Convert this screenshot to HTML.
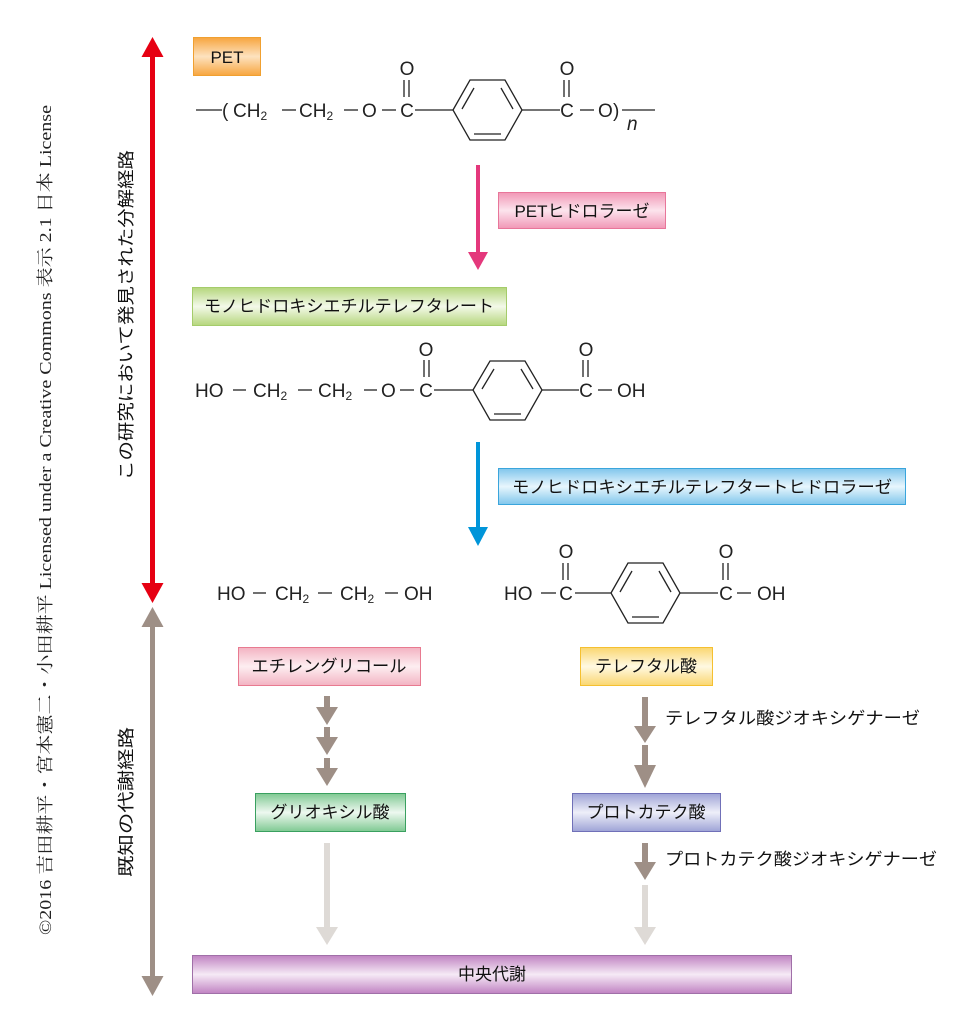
<!DOCTYPE html>
<html><head><meta charset="utf-8"><style>
html,body{margin:0;padding:0;background:#fff;}
svg{display:block;}
.c{font-family:"Liberation Sans",sans-serif;font-size:19px;fill:#222;}
.j{font-family:"Liberation Sans","Noto Sans CJK JP",sans-serif;font-size:17px;fill:#111;}
.b{stroke:#222;stroke-width:1.3;fill:none;}
</style></head><body>
<svg width="975" height="1029" viewBox="0 0 975 1029" xmlns="http://www.w3.org/2000/svg">
<defs>
<linearGradient id="gO" x1="0" y1="0" x2="0" y2="1"><stop offset="0" stop-color="#f7a53e"/><stop offset=".5" stop-color="#fde2bf"/><stop offset="1" stop-color="#f7a53e"/></linearGradient>
<linearGradient id="gP" x1="0" y1="0" x2="0" y2="1"><stop offset="0" stop-color="#f197b6"/><stop offset=".5" stop-color="#fce4ed"/><stop offset="1" stop-color="#f197b6"/></linearGradient>
<linearGradient id="gG" x1="0" y1="0" x2="0" y2="1"><stop offset="0" stop-color="#b5d67c"/><stop offset=".5" stop-color="#f3f9e9"/><stop offset="1" stop-color="#b5d67c"/></linearGradient>
<linearGradient id="gB" x1="0" y1="0" x2="0" y2="1"><stop offset="0" stop-color="#80c6ec"/><stop offset=".5" stop-color="#e8f6fd"/><stop offset="1" stop-color="#80c6ec"/></linearGradient>
<linearGradient id="gE" x1="0" y1="0" x2="0" y2="1"><stop offset="0" stop-color="#f3b3c2"/><stop offset=".5" stop-color="#fdeef1"/><stop offset="1" stop-color="#f3b3c2"/></linearGradient>
<linearGradient id="gY" x1="0" y1="0" x2="0" y2="1"><stop offset="0" stop-color="#fad670"/><stop offset=".5" stop-color="#fff9e2"/><stop offset="1" stop-color="#fad670"/></linearGradient>
<linearGradient id="gK" x1="0" y1="0" x2="0" y2="1"><stop offset="0" stop-color="#7fc992"/><stop offset=".5" stop-color="#eef8f0"/><stop offset="1" stop-color="#7fc992"/></linearGradient>
<linearGradient id="gV" x1="0" y1="0" x2="0" y2="1"><stop offset="0" stop-color="#9ea3d6"/><stop offset=".5" stop-color="#eeeff9"/><stop offset="1" stop-color="#9ea3d6"/></linearGradient>
<linearGradient id="gM" x1="0" y1="0" x2="0" y2="1"><stop offset="0" stop-color="#c083c2"/><stop offset=".5" stop-color="#f6eaf6"/><stop offset="1" stop-color="#c083c2"/></linearGradient>
</defs>

<text transform="translate(51,935) rotate(-90)" font-family="'Liberation Serif','Noto Serif CJK SC',serif" font-size="17" fill="#222" textLength="830" lengthAdjust="spacingAndGlyphs">©2016 吉田耕平・宮本憲二・小田耕平 Licensed under a Creative Commons 表示 2.1 日本 License</text>

<text class="j" transform="translate(132,480) rotate(-90)" font-size="18" textLength="330" lengthAdjust="spacingAndGlyphs">この研究において発見された分解経路</text>
<text class="j" transform="translate(132,877) rotate(-90)" font-size="18" textLength="150" lengthAdjust="spacingAndGlyphs">既知の代謝経路</text>

<rect x="150" y="54" width="5" height="532" fill="#e60012"/>
<polygon points="152.5,37 141.5,57 163.5,57" fill="#e60012"/>
<polygon points="152.5,603 141.5,583 163.5,583" fill="#e60012"/>
<rect x="150" y="624" width="5" height="354" fill="#9e8f86"/>
<polygon points="152.5,607 141.5,627 163.5,627" fill="#9e8f86"/>
<polygon points="152.5,996 141.5,976 163.5,976" fill="#9e8f86"/>

<rect x="193.5" y="37.5" width="67" height="38" fill="url(#gO)" stroke="#f0a030"/>
<text class="j" x="227" y="63" text-anchor="middle" font-size="19">PET</text>
<g class="b">
<line x1="196" y1="110" x2="222" y2="110"/>
<line x1="282" y1="110" x2="296" y2="110"/>
<line x1="344" y1="110" x2="358" y2="110"/>
<line x1="382" y1="110" x2="396" y2="110"/>
<line x1="415" y1="110" x2="453" y2="110"/>
<line x1="404" y1="80" x2="404" y2="97"/><line x1="409" y1="80" x2="409" y2="97"/>
<line x1="522" y1="110" x2="560" y2="110"/>
<line x1="580" y1="110" x2="594" y2="110"/>
<line x1="564" y1="80" x2="564" y2="97"/><line x1="569" y1="80" x2="569" y2="97"/>
<line x1="622" y1="110" x2="655" y2="110"/>
<polygon points="453,110 470,80 505,80 522,110 505,140 470,140"/>
<line x1="474" y1="88" x2="462" y2="109"/><line x1="501" y1="88" x2="513" y2="109"/><line x1="474" y1="134" x2="501" y2="134"/>
</g>
<text class="c" x="222" y="117">(</text>
<text class="c" x="233" y="117">CH<tspan font-size="12" dy="3">2</tspan></text>
<text class="c" x="299" y="117">CH<tspan font-size="12" dy="3">2</tspan></text>
<text class="c" x="362" y="117">O</text>
<text class="c" x="407" y="117" text-anchor="middle">C</text>
<text class="c" x="407" y="75" text-anchor="middle">O</text>
<text class="c" x="567" y="117" text-anchor="middle">C</text>
<text class="c" x="567" y="75" text-anchor="middle">O</text>
<text class="c" x="598" y="117">O</text>
<text class="c" x="613" y="117">)</text>
<text class="c" x="627" y="130" font-style="italic">n</text>

<rect x="476" y="165" width="4" height="95" fill="#e4387c"/>
<polygon points="478,270 468,252 488,252" fill="#e4387c"/>
<rect x="498.5" y="192.5" width="167" height="36" fill="url(#gP)" stroke="#e8769a"/>
<text class="j" x="582" y="217" text-anchor="middle">PETヒドロラーゼ</text>

<rect x="192.5" y="287.5" width="314" height="38" fill="url(#gG)" stroke="#a5cc6b"/>
<text class="j" x="349" y="312" text-anchor="middle" textLength="290" lengthAdjust="spacingAndGlyphs">モノヒドロキシエチルテレフタレート</text>
<g class="b">
<line x1="233" y1="390" x2="246" y2="390"/>
<line x1="298" y1="390" x2="312" y2="390"/>
<line x1="364" y1="390" x2="377" y2="390"/>
<line x1="400" y1="390" x2="414" y2="390"/>
<line x1="434" y1="390" x2="473" y2="390"/>
<line x1="424" y1="360" x2="424" y2="377"/><line x1="429" y1="360" x2="429" y2="377"/>
<line x1="542" y1="390" x2="579" y2="390"/>
<line x1="598" y1="390" x2="612" y2="390"/>
<line x1="583" y1="360" x2="583" y2="377"/><line x1="588" y1="360" x2="588" y2="377"/>
<polygon points="473,390 490,361 525,361 542,390 525,420 490,420"/>
<line x1="494" y1="369" x2="482" y2="389"/><line x1="521" y1="369" x2="533" y2="389"/><line x1="494" y1="414" x2="521" y2="414"/>
</g>
<text class="c" x="195" y="397">HO</text>
<text class="c" x="253" y="397">CH<tspan font-size="12" dy="3">2</tspan></text>
<text class="c" x="318" y="397">CH<tspan font-size="12" dy="3">2</tspan></text>
<text class="c" x="381" y="397">O</text>
<text class="c" x="426" y="397" text-anchor="middle">C</text>
<text class="c" x="426" y="356" text-anchor="middle">O</text>
<text class="c" x="586" y="397" text-anchor="middle">C</text>
<text class="c" x="586" y="356" text-anchor="middle">O</text>
<text class="c" x="617" y="397">OH</text>

<rect x="476" y="442" width="4" height="88" fill="#0095d9"/>
<polygon points="478,546 468,527 488,527" fill="#0095d9"/>
<rect x="498.5" y="468.5" width="407" height="36" fill="url(#gB)" stroke="#3aa5dc"/>
<text class="j" x="702" y="493" text-anchor="middle" textLength="380" lengthAdjust="spacingAndGlyphs">モノヒドロキシエチルテレフタートヒドロラーゼ</text>

<g class="b">
<line x1="253" y1="593" x2="266" y2="593"/>
<line x1="318" y1="593" x2="332" y2="593"/>
<line x1="385" y1="593" x2="398" y2="593"/>
</g>
<text class="c" x="217" y="600">HO</text>
<text class="c" x="275" y="600">CH<tspan font-size="12" dy="3">2</tspan></text>
<text class="c" x="340" y="600">CH<tspan font-size="12" dy="3">2</tspan></text>
<text class="c" x="404" y="600">OH</text>

<g class="b">
<line x1="541" y1="593" x2="556" y2="593"/>
<line x1="575" y1="593" x2="611" y2="593"/>
<line x1="563" y1="563" x2="563" y2="580"/><line x1="568" y1="563" x2="568" y2="580"/>
<line x1="680" y1="593" x2="718" y2="593"/>
<line x1="737" y1="593" x2="751" y2="593"/>
<line x1="723" y1="563" x2="723" y2="580"/><line x1="728" y1="563" x2="728" y2="580"/>
<polygon points="611,593 628,563 663,563 680,593 663,623 628,623"/>
<line x1="632" y1="571" x2="620" y2="592"/><line x1="659" y1="571" x2="671" y2="592"/><line x1="632" y1="617" x2="659" y2="617"/>
</g>
<text class="c" x="504" y="600">HO</text>
<text class="c" x="566" y="600" text-anchor="middle">C</text>
<text class="c" x="566" y="558" text-anchor="middle">O</text>
<text class="c" x="726" y="600" text-anchor="middle">C</text>
<text class="c" x="726" y="558" text-anchor="middle">O</text>
<text class="c" x="757" y="600">OH</text>

<rect x="238.5" y="647.5" width="182" height="38" fill="url(#gE)" stroke="#e87a90"/>
<text class="j" x="329" y="672" text-anchor="middle" textLength="155" lengthAdjust="spacingAndGlyphs">エチレングリコール</text>
<rect x="580.5" y="647.5" width="132" height="38" fill="url(#gY)" stroke="#f5c030"/>
<text class="j" x="646" y="672" text-anchor="middle">テレフタル酸</text>
<rect x="255.5" y="793.5" width="150" height="38" fill="url(#gK)" stroke="#3aa060"/>
<text class="j" x="330" y="818" text-anchor="middle">グリオキシル酸</text>
<rect x="572.5" y="793.5" width="148" height="38" fill="url(#gV)" stroke="#7070b8"/>
<text class="j" x="646" y="818" text-anchor="middle">プロトカテク酸</text>
<rect x="192.5" y="955.5" width="599" height="38" fill="url(#gM)" stroke="#a070a8"/>
<text class="j" x="492" y="980" text-anchor="middle">中央代謝</text>

<g fill="#9e8f86">
<rect x="324" y="696" width="6" height="12"/><polygon points="327,725 316,707 338,707"/>
<rect x="324" y="727" width="6" height="11"/><polygon points="327,755 316,737 338,737"/>
<rect x="324" y="758" width="6" height="11"/><polygon points="327,786 316,768 338,768"/>
<rect x="642" y="697" width="6" height="30"/><polygon points="645,743 634,726 656,726"/>
<rect x="642" y="745" width="6" height="21"/><polygon points="645,788 634,765 656,765"/>
<rect x="642" y="843" width="6" height="20"/><polygon points="645,880 634,862 656,862"/>
</g>
<g fill="#dedad6">
<rect x="324" y="843" width="6" height="86"/><polygon points="327,945 316,927 338,927"/>
<rect x="642" y="885" width="6" height="44"/><polygon points="645,945 634,927 656,927"/>
</g>
<text class="j" x="665" y="724" font-size="18" textLength="255" lengthAdjust="spacingAndGlyphs">テレフタル酸ジオキシゲナーゼ</text>
<text class="j" x="665" y="865" font-size="18" textLength="272" lengthAdjust="spacingAndGlyphs">プロトカテク酸ジオキシゲナーゼ</text>
</svg>
</body></html>
